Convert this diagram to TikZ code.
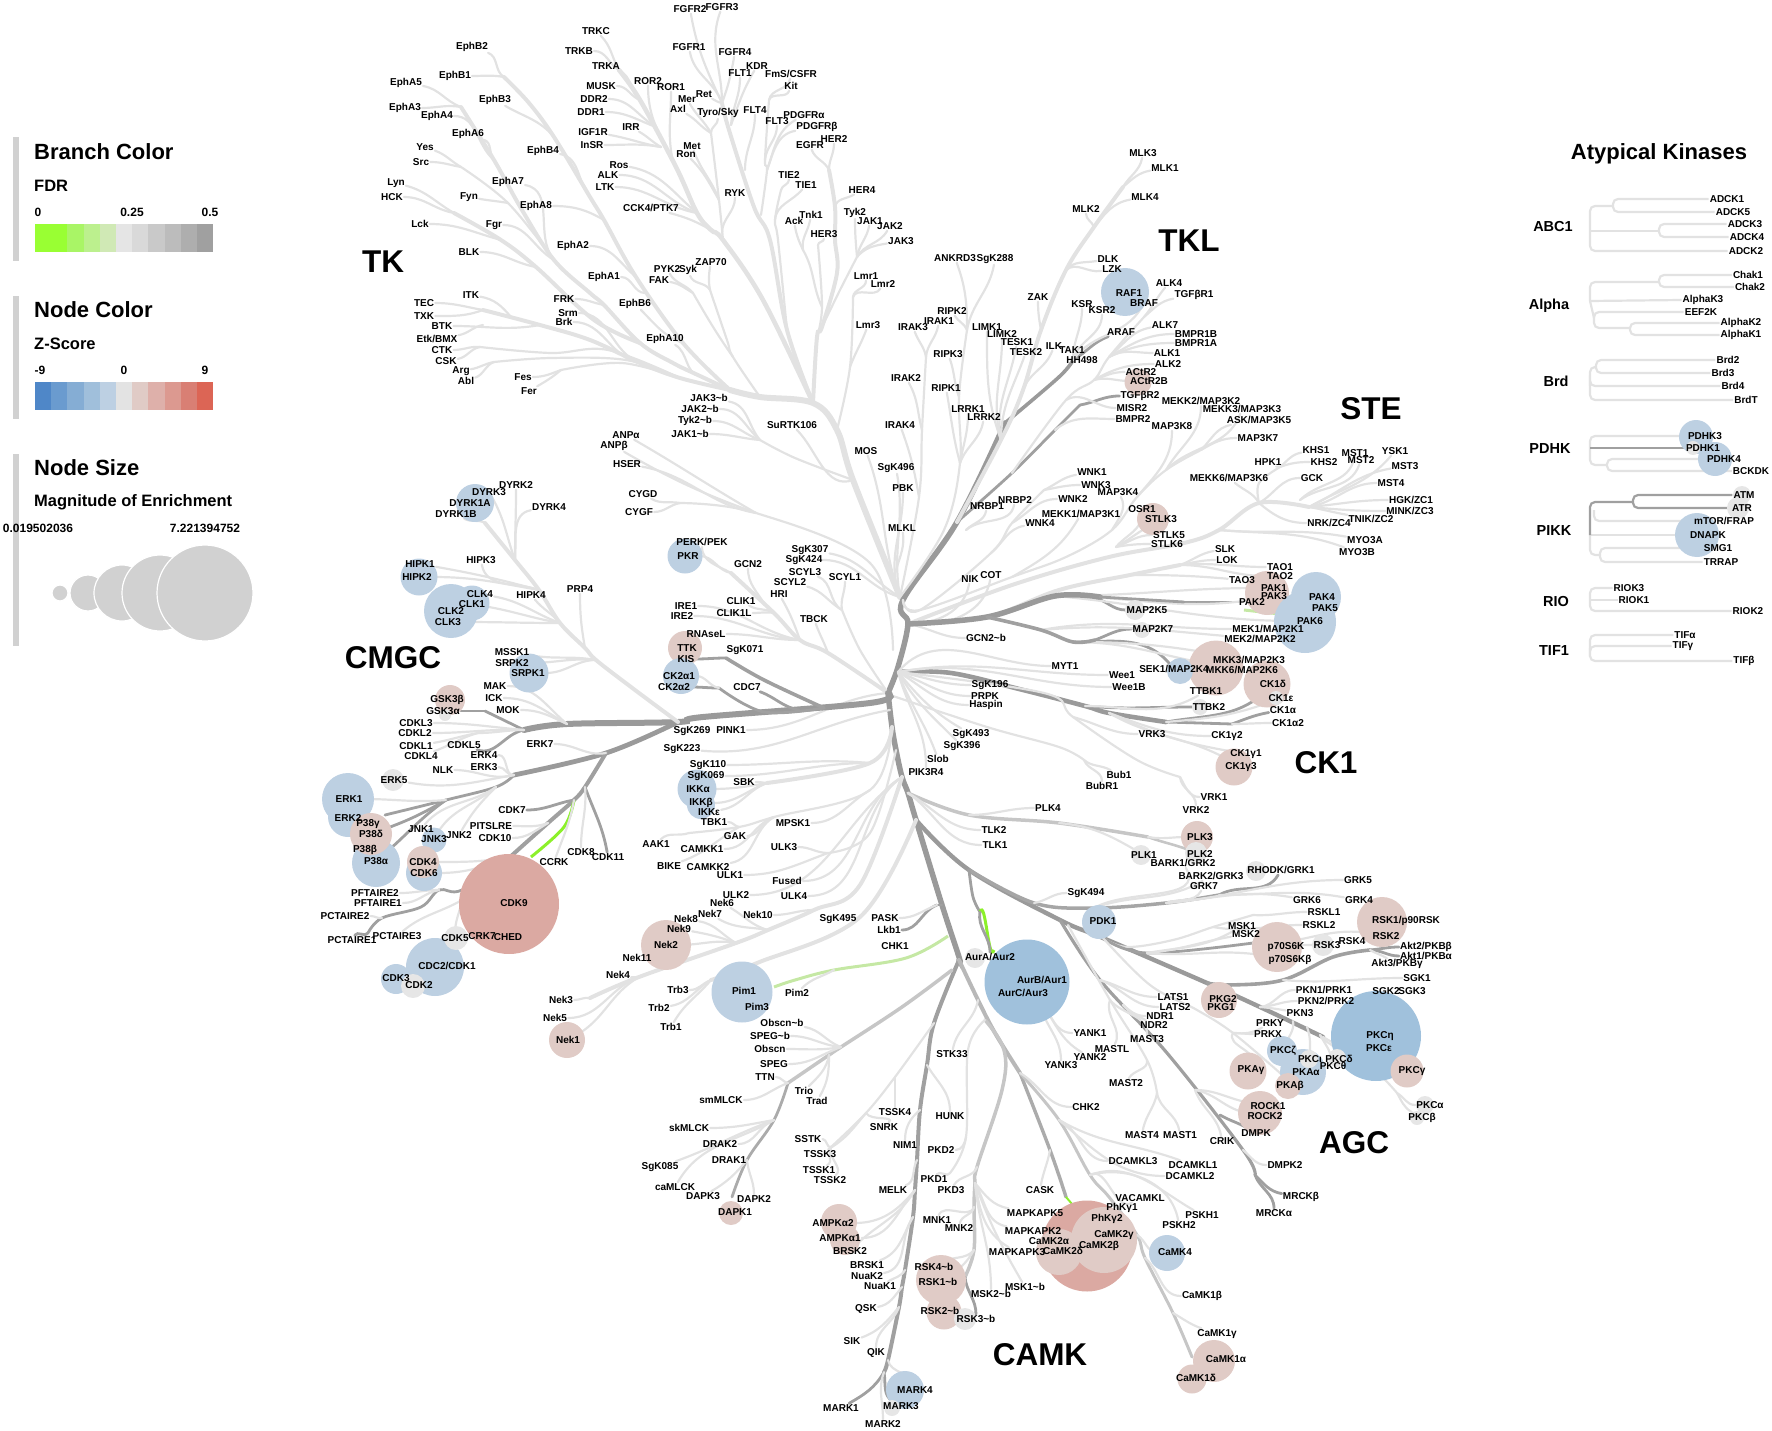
\documentclass[tikz,border=0pt]{standalone}
\usepackage{fontspec}
\setmainfont{Liberation Sans}
\usetikzlibrary{positioning}
\pgfdeclarelayer{branch}
\pgfdeclarelayer{dots}
\pgfsetlayers{branch,dots,main}
\definecolor{bl}{HTML}{E2E2E2}
\definecolor{gm}{HTML}{C6C6C6}
\definecolor{mdg}{HTML}{A0A0A0}
\definecolor{dkg}{HTML}{9A9A9A}
\definecolor{grn}{HTML}{8CF02A}
\definecolor{lgn}{HTML}{C5E8A4}
\definecolor{nblue}{HTML}{BDD0E2}
\definecolor{nblu}{HTML}{A0C1DC}
\definecolor{npink}{HTML}{E0CBC6}
\definecolor{nred}{HTML}{DBA9A2}
\definecolor{ngrey}{HTML}{E6E6E6}
\newcommand{\tld}{\textasciitilde}
\newcommand{\twigs}[2]{\foreach \ja/\jb/\ao/\ai in {#2}{\draw[#1] (\ja) to[out=\ao,in=\ai] (\jb);}}
\newcommand{\atyp}[2]{\foreach \ja/\jb in {#2}{\draw[#1] (\ja) |- (\jb);}}
\begin{document}
\begin{tikzpicture}[x=1pt,y=-1pt,
 lbl/.style={font=\fontsize{10}{11}\selectfont\bfseries,inner sep=1pt},
 fam/.style={font=\fontsize{31.5}{33}\selectfont\bfseries,inner sep=0pt},
 sub/.style={font=\fontsize{14.5}{16}\selectfont\bfseries,inner sep=0pt},
 ttl/.style={font=\fontsize{22}{24}\selectfont\bfseries,anchor=west,inner sep=0pt},
 stl/.style={font=\fontsize{16.5}{18}\selectfont\bfseries,anchor=west,inner sep=0pt},
 tck/.style={font=\fontsize{12}{13}\selectfont\bfseries,inner sep=0pt},
 dot/.style={circle,inner sep=0pt,draw=none},
 tw/.style={draw=bl,line width=2.2pt,line cap=round},
 tr/.style={draw=bl,line width=4pt,line cap=round},
 trb/.style={draw=bl,line width=6pt,line cap=round},
 tg/.style={draw=gm,line width=3.5pt,line cap=round},
 md/.style={draw=mdg,line width=2.8pt,line cap=round},
 dk/.style={draw=dkg,line width=5.5pt,line cap=round},
 gr/.style={draw=grn,line width=3pt},
 lg/.style={draw=lgn,line width=3pt},
 aty/.style={draw=bl,line width=2.2pt,rounded corners=5pt},
 atyd/.style={draw=mdg,line width=2.2pt,rounded corners=5pt}]
\useasboundingbox (0,0) rectangle (1772,1431);
% legend
\foreach \y/\h in {137/124,296/123,454/192}{\fill[black!18] (13,\y) rectangle ++(6,\h);}
\node[ttl] (tBranch) at (34,152) {Branch Color};
\node[stl] (tFDR) at (34,186) {FDR};
\node[ttl] (tNode) at (34,310) {Node Color};
\node[stl] (tZ) at (34,344) {Z-Score};
\node[ttl] (tSize) at (34,468) {Node Size};
\node[stl] (tMag) at (34,502) {Magnitude of Enrichment};
\foreach \n/\x/\y/\lab in {a/38/212/0,b/132/212/0.25,c/210/212/0.5,d/40/370/-9,e/124/370/0,f/205/370/9,g/38/528/0.019502036,h/205/528/7.221394752}{\node[tck] (k\n) at (\x,\y) {\lab};}
\foreach \i/\c in {0/99FF33,1/99FF33,2/A9F566,3/BCF08E,4/D0E9B5,5/E5E5E5,6/D9D9D9,7/C9C9C9,8/BCBCBC,9/AEAEAE,10/A0A0A0}{\definecolor{cc}{HTML}{\c}\fill[cc] (35+\i*16.2,224) rectangle ++(16.2,28);}
\foreach \i/\c in {0/4F87C8,1/6A9BCF,2/85ADD4,3/A0BFDB,4/BDD0E3,5/E3E3E3,6/E0CBC6,7/DEB0AA,8/DC9990,9/D97F74,10/DC6555}{\definecolor{cc}{HTML}{\c}\fill[cc] (35+\i*16.2,382) rectangle ++(16.2,28);}
\foreach \n/\x/\d in {a/60/16,b/88/36,c/122/56,d/160/76,e/205/96}{\node[dot,fill=black!18,draw=white,line width=1.2pt,minimum size=\d] (s\n) at (\x,593) {};}
% family names
\foreach \n/\x/\y in {TK/383/262,TKL/1189/241,STE/1371/409,CMGC/393/658,CK1/1326/763,AGC/1354/1143,CAMK/1040/1355}{\node[fam] (f\n) at (\x,\y) {\n};}
\node[ttl,anchor=center] (tAty) at (1659,154) {Atypical Kinases};
\foreach \n/\x/\y in {ABC1/1553/227,Alpha/1549/306,Brd/1556/381,PDHK/1550/449,PIKK/1554/531,RIO/1556/602,TIF1/1554/651}{\node[sub] (s\n) at (\x,\y) {\n};}
% kinases, name = text
\foreach \n/\x/\y in {FGFR2/690/9,FGFR3/722/7,TRKC/596/31,EphB2/472/47,TRKB/579/51,FGFR1/689/47,FGFR4/735/52,KDR/757/66,FLT1/740/73,TRKA/606/66,EphB1/455/76,EphA5/406/83,ROR2/648/81,ROR1/671/87,MUSK/601/86,Kit/791/86,Ret/704/94,Mer/687/99,DDR2/594/99,EphB3/495/100,Axl/678/109,EphA3/405/108,DDR1/591/112,EphA4/437/116,FLT4/755/110,FLT3/777/121,IRR/631/127,IGF1R/593/132,EphA6/468/134,HER2/834/139,InSR/592/145,Met/692/146,EGFR/810/145,Yes/425/147,EphB4/543/151,Ron/686/154,Src/421/162,Ros/619/165,TIE2/789/175,ALK/608/175,EphA7/508/182,Lyn/396/183,TIE1/806/185,LTK/605/187,HER4/862/190,RYK/735/193,HCK/392/197,Fyn/469/197,EphA8/536/206,Tyk2/855/213,Tnk1/811/215,JAK1/870/221,Ack/794/221,JAK2/890/226,Lck/420/224,Fgr/494/225,HER3/824/234,JAK3/901/241,EphA2/573/246,BLK/469/252,ZAP70/711/262,PYK2/667/269,Syk/688/270,EphA1/604/277,Lmr1/866/276,FAK/659/280,Lmr2/883/284,ITK/471/295,TEC/424/303,FRK/564/299,EphB6/635/304,Srm/568/313,TXK/424/316,Brk/564/322,Lmr3/868/325,BTK/442/326,EphA10/665/339,CTK/442/350,CSK/446/361,Arg/461/371,Fes/523/377,Abl/466/381,Fer/529/391,SuRTK106/792/425,HSER/627/464,CYGD/643/494,CYGF/639/512,MOS/866/451,
 MLK3/1143/153,MLK1/1165/168,MLK4/1145/197,MLK2/1086/209,ANKRD3/955/258,SgK288/995/259,DLK/1108/259,LZK/1112/269,ZAK/1038/297,RAF1/1129/293,BRAF/1144/303,ALK4/1169/283,KSR/1082/304,KSR2/1102/310,RIPK2/952/311,IRAK1/939/321,IRAK3/913/327,LIMK1/987/327,ALK7/1165/325,BMPR1B/1196/334,BMPR1A/1196/343,ARAF/1121/332,LIMK2/1002/334,TESK1/1017/342,ILK/1054/346,TAK1/1072/350,TESK2/1026/352,ALK1/1167/353,RIPK3/948/354,HH498/1082/360,ALK2/1168/364,ACtR2/1141/372,ACtR2B/1149/381,IRAK2/906/378,RIPK1/946/388,LRRK1/968/409,MISR2/1132/408,LRRK2/984/417,BMPR2/1133/419,IRAK4/900/425,MAP3K8/1172/426,MAP3K7/1258/438,KHS1/1316/450,MST1/1355/453,YSK1/1395/451,MST2/1361/460,HPK1/1268/462,KHS2/1324/462,MST3/1405/466,SgK496/896/468,WNK1/1092/472,GCK/1312/478,WNK3/1096/485,MST4/1391/483,PBK/903/488,MAP3K4/1118/492,WNK2/1073/499,NRBP2/1015/500,NRBP1/987/506,OSR1/1142/509,STLK3/1161/519,WNK4/1040/523,MLKL/902/528,STLK5/1169/535,MYO3A/1365/540,STLK6/1167/544,SLK/1225/549,MYO3B/1357/552,LOK/1227/560,TAO1/1280/567,TAO2/1280/576,
 NIK/970/579,COT/991/575,TAO3/1242/580,PAK1/1274/588,PAK3/1274/596,PAK4/1322/597,PAK2/1252/602,PAK5/1325/608,MAP2K5/1147/610,PAK6/1310/621,MAP2K7/1153/629,MYT1/1065/666,Wee1/1122/675,SgK196/990/685,Wee1B/1129/687,TTBK1/1206/691,PRPK/985/696,Haspin/986/705,TTBK2/1209/707,SgK493/971/734,VRK3/1152/734,SgK396/962/746,Slob/938/759,PIK3R4/926/772,Bub1/1119/775,BubR1/1102/786,VRK1/1214/797,VRK2/1196/810,PLK4/1048/808,TLK2/994/830,PLK3/1200/837,TLK1/995/845,PLK1/1144/855,PLK2/1200/854,GRK5/1358/880,GRK7/1204/886,SgK494/1086/893,GRK6/1307/900,GRK4/1359/900,RSKL1/1324/912,PDK1/1103/921,RSKL2/1319/925,MSK1/1242/926,MSK2/1246/934,RSK2/1386/936,RSK4/1352/941,RSK3/1327/945,p70S6K/1286/947,
 SGK1/1417/978,SGK2/1386/991,SGK3/1412/991,LATS1/1173/997,PKG2/1223/999,LATS2/1175/1007,PKG1/1221/1007,NDR1/1160/1016,PKN3/1300/1013,NDR2/1154/1025,PRKY/1270/1023,YANK1/1090/1033,PRKX/1268/1034,MAST3/1147/1039,MASTL/1112/1049,YANK2/1090/1057,YANK3/1061/1065,MAST2/1126/1083,ROCK1/1268/1106,CHK2/1086/1107,ROCK2/1265/1116,DMPK/1256/1133,MAST4/1142/1135,MAST1/1180/1135,CRIK/1222/1141,DCAMKL3/1133/1161,DCAMKL1/1193/1165,DMPK2/1285/1165,DCAMKL2/1190/1176,CASK/1040/1190,VACAMKL/1140/1198,MAPKAPK5/1035/1213,PSKH1/1202/1215,PSKH2/1179/1225,MAPKAPK2/1033/1231,CaMK4/1175/1252,MAPKAPK3/1017/1252,
 Pim1/744/991,Pim2/797/993,Pim3/757/1007,Trb3/678/990,Trb2/659/1008,Trb1/671/1027,Obscn/770/1049,SPEG/774/1064,STK33/952/1054,TTN/765/1077,Trio/804/1091,Trad/817/1101,smMLCK/721/1100,TSSK4/895/1112,HUNK/950/1116,SNRK/884/1127,skMLCK/689/1128,SSTK/808/1139,DRAK2/720/1144,NIM1/905/1145,PKD2/941/1150,TSSK3/820/1154,DRAK1/729/1160,SgK085/660/1167,TSSK1/819/1170,PKD1/934/1179,TSSK2/830/1180,caMLCK/675/1187,MELK/893/1190,PKD3/951/1190,DAPK3/703/1196,DAPK2/754/1199,DAPK1/735/1212,MNK1/937/1220,MNK2/959/1228,BRSK2/850/1251,BRSK1/867/1265,NuaK2/867/1276,NuaK1/880/1286,QSK/866/1309,SIK/852/1341,QIK/876/1353,MARK4/915/1390,MARK1/841/1408,MARK3/901/1406,MARK2/883/1424,
 DYRK2/516/485,DYRK3/489/492,DYRK4/549/507,DYRK1A/470/503,DYRK1B/456/514,HIPK3/481/560,PKR/688/556,HIPK1/420/564,GCN2/748/564,SgK307/810/550,SgK424/804/560,SCYL3/805/572,SCYL1/845/577,SCYL2/790/582,HIPK2/417/577,PRP4/580/589,HRI/779/594,CLK4/480/594,CLK1/472/604,HIPK4/531/595,IRE1/686/606,IRE2/682/616,CLIK1/741/601,CLIK1L/734/613,CLK2/451/611,CLK3/448/622,TBCK/814/619,RNAseL/706/634,MSSK1/512/652,TTK/687/648,SgK071/745/650,KIS/686/659,SRPK2/512/663,SRPK1/528/673,CDC7/747/687,MAK/495/686,ICK/494/698,MOK/508/710,CDKL3/416/723,SgK269/692/731,PINK1/731/730,CDKL2/415/733,CDKL1/416/746,CDKL5/464/745,ERK7/540/744,SgK223/682/749,CDKL4/421/756,ERK4/484/755,SgK110/708/765,NLK/443/770,ERK3/484/767,ERK5/394/780,SgK069/706/776,SBK/744/782,ERK1/349/799,CDK7/512/810,ERK2/348/818,TBK1/714/822,MPSK1/793/823,JNK1/421/829,PITSLRE/491/826,JNK3/434/839,JNK2/459/835,GAK/735/836,CDK10/495/838,AAK1/656/844,ULK3/784/847,CAMKK1/702/849,CDK8/581/852,CDK11/608/857,CDK4/423/862,CCRK/554/862,BIKE/669/866,CAMKK2/708/867,CDK6/424/873,Fused/787/881,ULK1/730/875,
 PFTAIRE2/375/893,PFTAIRE1/378/903,CDK9/514/903,ULK2/736/895,ULK4/794/896,Nek6/722/903,Nek7/710/914,Nek10/758/915,PCTAIRE2/345/916,Nek8/686/919,SgK495/838/919,Nek9/679/929,CRK7/482/936,CHED/508/937,PCTAIRE3/397/936,CDK5/455/938,PCTAIRE1/352/940,Nek2/666/945,Nek11/637/958,Nek4/618/975,CDK3/396/978,CDK2/419/985,Nek3/561/1000,Nek5/555/1018,Nek1/568/1040,PASK/885/918,Lkb1/889/930,CHK1/895/946,
 ADCK1/1727/199,ADCK5/1733/212,ADCK3/1745/224,ADCK4/1747/237,ADCK2/1746/251,Chak1/1748/275,Chak2/1750/287,AlphaK3/1703/300,EEF2K/1701/312,AlphaK2/1741/323,AlphaK1/1741/335,Brd2/1728/360,Brd3/1723/373,Brd4/1733/386,BrdT/1746/400,PDHK3/1705/436,PDHK1/1703/448,PDHK4/1724/459,BCKDK/1751/471,ATM/1744/495,ATR/1742/508,DNAPK/1708/535,SMG1/1718/548,TRRAP/1721/562,RIOK3/1629/588,RIOK1/1634/600,RIOK2/1748/611}{\node[lbl] (\n) at (\x,\y) {\n};}
% kinases, name and text differ
\foreach \n/\lab/\x/\y in {FmS/{FmS/CSFR}/791/74,Tyro/{Tyro/Sky}/718/113,PDGFRa/PDGFRα/804/115,PDGFRb/PDGFRβ/817/127,CCK4/{CCK4/PTK7}/651/208,Etk/{Etk/BMX}/437/339,JAK3b/JAK3\tld b/709/398,JAK2b/JAK2\tld b/700/409,Tyk2b/Tyk2\tld b/695/421,JAK1b/JAK1\tld b/690/434,ANPa/ANPα/626/435,ANPb/ANPβ/614/446,
 TGFbR1/TGFβR1/1194/295,TGFbR2/TGFβR2/1140/396,MEKK2/{MEKK2/MAP3K2}/1201/401,MEKK3/{MEKK3/MAP3K3}/1242/409,ASK/{ASK/MAP3K5}/1259/420,MEKK6/{MEKK6/MAP3K6}/1229/478,HGK/{HGK/ZC1}/1411/500,MINK/{MINK/ZC3}/1410/511,MEKK1/{MEKK1/MAP3K1}/1081/514,TNIK/{TNIK/ZC2}/1371/519,NRK/{NRK/ZC4}/1329/523,
 MEK1/{MEK1/MAP2K1}/1268/629,GCN2b/GCN2\tld b/986/638,MEK2/{MEK2/MAP2K2}/1260/639,MKK3/{MKK3/MAP2K3}/1249/660,SEK1/{SEK1/MAP2K4}/1174/669,MKK6/{MKK6/MAP2K6}/1242/670,CK1d/CK1δ/1273/684,CK1e/CK1ε/1281/698,CK1a/CK1α/1283/710,CK1a2/CK1α2/1288/723,CK1g2/CK1γ2/1227/736,CK1g1/CK1γ1/1246/754,CK1g3/CK1γ3/1241/767,BARK1/{BARK1/GRK2}/1183/863,RHODK/{RHODK/GRK1}/1281/870,BARK2/{BARK2/GRK3}/1211/876,RSK1/{RSK1/p90RSK}/1406/921,p70S6Kb/p70S6Kβ/1290/960,AurA/{AurA/Aur2}/990/957,
 Akt2/{Akt2/PKBβ}/1426/947,Akt1/{Akt1/PKBα}/1426/956,Akt3/{Akt3/PKBγ}/1397/964,AurB/{AurB/Aur1}/1042/980,AurC/{AurC/Aur3}/1023/993,PKN1/{PKN1/PRK1}/1324/990,PKN2/{PKN2/PRK2}/1326/1001,PKCh/PKCη/1380/1036,PKCe/PKCε/1379/1048,PKCz/PKCζ/1283/1051,PKCi/PKCι/1310/1059,PKCd/PKCδ/1339/1059,PKCt/PKCθ/1333/1066,PKAg/PKAγ/1251/1070,PKAa/PKAα/1306/1072,PKCg/PKCγ/1412/1071,PKAb/PKAβ/1290/1086,PKCa/PKCα/1430/1105,PKCb/PKCβ/1422/1118,MRCKb/MRCKβ/1301/1197,PhKg1/PhKγ1/1122/1208,MRCKa/MRCKα/1274/1213,PhKg2/PhKγ2/1107/1219,
 CaMKIIg/CaMK2γ/1114/1235,CaMKIIa/CaMK2α/1049/1241,CaMKIIb/CaMK2β/1099/1246,CaMKIId/CaMK2δ/1063/1251,CaMK1b/CaMK1β/1202/1296,CaMK1g/CaMK1γ/1217/1334,CaMK1a/CaMK1α/1226/1359,CaMK1d/CaMK1δ/1196/1378,MSK1b/MSK1\tld b/1025/1287,Obscnb/Obscn\tld b/782/1023,SPEGb/SPEG\tld b/770/1036,AMPKa2/AMPKα2/833/1223,AMPKa1/AMPKα1/840/1238,RSK4b/RSK4\tld b/934/1267,RSK1b/RSK1\tld b/938/1282,MSK2b/MSK2\tld b/991/1294,RSK2b/RSK2\tld b/940/1311,RSK3b/RSK3\tld b/976/1319,
 PERK/{PERK/PEK}/702/542,CK2a1/CK2α1/679/676,CK2a2/CK2α2/674/687,GSK3b/GSK3β/447/700,GSK3a/GSK3α/443/711,IKKa/IKKα/698/789,IKKb/IKKβ/701/803,IKKe/IKKε/709/812,P38g/P38γ/368/824,P38d/P38δ/371/834,P38b/P38β/365/850,P38a/P38α/376/861,CDC2/{CDC2/CDK1}/447/966,
 mTOR/{mTOR/FRAP}/1724/521,TIFa/TIFα/1685/635,TIFg/TIFγ/1683/646,TIFb/TIFβ/1744/661}{\node[lbl] (\n) at (\x,\y) {\lab};}
% junctions of the tree
\foreach \n/\x/\y in {rc/888/693,rt/900/597,tkc/853/480,tkb/837/430,tk0/813/403,tk1/760/397,tk2/730/390,tk25/700/376,tk3/673/363,tk4/640/343,tk5/680/378,eb0/683/343,eb1/636/277,eb9/645/293,eb2/604/220,eb3/590/197,eb4/554/137,eb5/529/103,eb6/504/77,ea05/604/305,ea1/590/293,ea2/554/260,ea3/522/210,ea4/494/160,ea5/461/107,ys2/508/203,ys1/461/167,sf1/594/320,sf2/536/267,sf3/501/240,sf4/454/213,te1/640/363,te2/590/340,te3/540/325,te35/511/317,te4/483/310,bt1/483/325,ct1/608/350,ct2/551/353,ct3/480/347,ab1/626/360,ab2/551/358,ab3/494/362,fe1/622/363,fe2/561/370,zk1/733/357,zk2/693/293,zk3/727/340,zk4/710/290,
 tr1/763/300,tr12/723/240,tr15/711/230,tr2/697/213,tr3/676/167,tr32/661/147,tr33/672/157,tr35/656/127,tr4/640/100,tr5/619/70,ax1/719/200,ax2/711/133,tr1b/722/233,br1/787/330,br0/770/240,br2/754/207,br25/745/170,br3/729/130,br35/731/125,br4/722/103,br2b/761/215,c15/767/170,c1/765/160,c2/769/100,he1/817/337,he15/822/327,he2/837/273,he3/835/240,he4/835/207,he5/829/170,hq1/822/307,hq2/818/245,ti1/778/240,ti2/775/220,ti3/781/190,ack1/803/250,ja1/840/290,ja2/857/257,lm1/850/367,lm2/853/297,jb1/795/458,jb2/760/440,gy0/893/650,gy1/870/563,gy2/756/513,gy3/680/503,
 sp0/898/667,sp15/908/624,sp1/903/600,sp2/957/522,da1/1005/423,da2/1059/377,da3/1073/360,tg1/1012/473,tg2/1055/430,tg3/1080/405,tl1/1066/400,tl15/1094/380,tl2/1109/357,tl3/1144/317,ml5/1001/440,ml4/1023/390,ml3/1041/330,ml2/1066/270,ml1/1094/227,ml0/1123/187,rp1/944/530,rp2/960/463,rp3/959/397,rp4/967/330,ir3/919/497,ir2/922/430,ir1/926/357,nb0/966/530,
 st0/920/610,st1/1012/577,wn0/991/553,wn1/1012/523,wn2/1044/490,me0/1066/557,me1/1112/530,me2/1137/497,me3/1166/470,me4/1201/450,st2/1116/547,gk0/1012/585,gk1/1109/557,gk2/1184/543,gk3/1219/530,gk4/1259/503,gk5/1309/507,gu1/1259/483,gu2/1280/467,gs0/1300/500,sa0/987/617,sa1/1059/590,sa2/1130/575,sa3/1180/565,pa1/987/617,pa15/1094/598,pa2/1055/596,pa3/1100/597,pa4/1184/602,pe1/1244/610,pe2/1280/614,mk1/1041/630,mk2/1073/642,mk3/1095/640,
 rc4/898/672,ck1/951/673,ck2/1023/690,ck25/1085/706,ck3/1109/713,ck4/1166/722,ck5/1232/724,bu0/890/695,bu1/987/727,bu2/1059/747,bu3/1084/760,vr0/1044/693,vr1/1073/717,vr2/1137/760,vr3/1180/777,sp3/892/727,sp35/896/750,sp4/902/777,sp45/908/793,sp5/916/820,sp55/942/905,sp6/959/957,pl1/969/815,pl2/1059/823,pl3/1148/837,
 ag1/969/870,ag2/1060/920,ag25/1068/925,ag3/1103/938,ag4/1207/983,ag5/1260/1007,ag55/1293/1021,ag56/1307/1027,ag57/1320/1035,ag6/1323/1037,ah1/1100/980,ah15/1123/1005,ah2/1167/1053,ah25/1195/1090,ah28/1220/1115,ah3/1243/1150,ah4/1255/1175,gr1/1034/903,gr2/1094/908,gr3/1166/903,gr4/1219/895,rs1/1127/947,rs2/1173/940,rs3/1213/927,rs4/1253/915,p71/1147/953,p72/1253/943,ak1/1230/985,ak2/1283/980,ak3/1333/957,ak4/1370/950,pk1/1397/1093,ma1/1110/1000,ma2/1147/1060,ma3/1157/1093,pq0/1150/985,pq1/1197/1010,pq2/1233/1033,pq3/1280/1073,aub/1040/1000,au1/973/897,au2/980/912,au3/994/950,
 ca0/959/960,ca1/934/1023,ca15/927/1065,ca2/920/1110,ca25/917/1160,ca28/915/1190,ca3/913/1217,ca35/905/1270,ca36/902/1287,ca37/899/1307,ca4/888/1360,ca5/884/1372,cb0/978/1000,cb1/995/1033,cb15/985/1020,cb2/1020/1073,cb25/1050/1150,cb3/1066/1197,cb4/1072/1204,cc1/1059/1120,cc15/1090/1175,cc2/1109/1197,cc25/1137/1235,cc3/1145/1258,cc4/1173/1313,cc5/1192/1357,cd1/1004/1050,cd2/1002/1090,cd3/977/1167,cd35/975/1183,cd4/974/1207,cd5/974/1250,cd6/965/1277,pd1/968/1050,pd2/966/1137,pd3/950/1173,ts1/895/1077,ts2/866/1113,ts3/831/1147,mc0/952/970,mc1/902/1007,mc2/841/1047,mc25/829/1055,mc3/788/1083,dp1/774/1120,dp2/747/1160,dp3/732/1197,pm0/948/936,pm1/906/958,pm2/834/970,pm3/795/980,pm4/774/987,tb1/860/917,tb2/757/963,tb3/711/980,pas/937/905,nk1/860/885,nk2/814/910,nk25/768/930,nk3/736/943,nk4/639/977,nk5/590/998,
 aa1/870/790,aa2/774/817,aa3/739/827,aa4/689/833,ul1/870/833,ul2/828/853,ik1/870/763,ik2/767/783,sp25/890/710,ek1/828/653,ek15/800/640,ek2/774/613,ek25/765/605,ek3/731/573,sc1/860/650,sc2/842/610,ki1/824/708,ki2/764/680,ki3/726/658,cq0/764/712,cq1/719/688,cs0/799/710,dk1/870/703,dk2/703/717,dk3/678/722,dk5/567/724,dk4/524/730,cl/478/733,gq1/485/711,er1/606/753,er2/514/775,er25/496/787,er3/446/800,er4/385/815,cv1/585/787,cv15/574/800,cv18/548/823,cv2/510/857,gn1/564/827,gn2/531/857,pf0/462/890,pf1/439/890,pf2/421/907,pf3/382/918,pf4/368/933,pg/462/900,cm1/631/687,cm2/596/660,cm3/560/623,cm4/539/590,cm5/515/560,cm6/485/523,cm25/585/648,
 xa0/1590/231,xa1/1613/206,xa2/1659/231,xb0/1590/301,xb1/1659/282,xb2/1594/318,xb3/1630/328,xc0/1590/386,xc1/1596/367,xd0/1590/448,xd1/1607/465,xe0/1590/535,xe1/1633/502,xe2/1594/510,xe3/1600/555,xf0/1590/600,xg0/1590/648}{\coordinate (\n) at (\x,\y);}
\begin{pgfonlayer}{dots}
\foreach \n/\x/\y/\d/\c in {CDK9/509/904/100/nred,CaMKa/1087/1246/91/nred,PhK/1104/1240/66/npink,CaMKc/1059/1252/46/npink,AurB/1027/982/85/nblu,PKCh/1376/1036/90/nblu,PKCg/1407/1071/33/npink,RAF1/1125/292/48/nblue,ACtR/1138/382/27/npink,OSR1/1153/519/32/npink,DYRK/475/503/38/nblue,HIPK/419/577/37/nblue,CLK1/472/603/35/nblue,CLK3/451/611/54/nblue,SRPK/529/673/39/nblue,GSK3/450/700/30/npink,GSKa/445/715/12/ngrey,PKR/685/556/35/nblue,TTK/685/648/34/npink,CK2/681/676/36/nblue,ERK5/393/780/22/ngrey,ERK1/348/799/52/nblue,ERK2/348/817/40/nblue,P38a/376/863/48/nblue,P38g/371/834/42/npink,JNK3/434/840/25/nblue,CDK6/424/873/36/nblue,CDK4/423/862/32/npink,IKKa/697/789/39/nblue,IKKb/701/805/28/nblue,CDC2/435/967/58/nblue,CDK3/396/979/30/nblue,CDK2/413/986/24/ngrey,CDK5/456/938/24/ngrey,Nek2/666/945/50/npink,Pim1/742/992/61/nblue,Nek1/567/1040/36/npink,MAP2K5/1135/610/20/ngrey,MAP2K7/1142/630/16/ngrey,PAK1/1267/593/44/npink,PAK4/1316/597/50/nblue,PAK6/1305/622/62/nblue,MKK3/1216/668/55/npink,SEK1/1180/671/26/nblue,CK1d/1267/684/47/npink,TTBK2/1200/707/16/ngrey,CK1e/1276/698/14/ngrey,CK1g/1234/767/37/npink,PLK3/1197/837/32/npink,PLK2/1196/853/22/ngrey,PLK1/1141/855/20/ngrey,RHODK/1256/871/20/ngrey,PDK1/1099/922/34/nblue,AurA/975/958/20/ngrey,PKG/1219/1000/36/npink,RSK1/1382/922/50/npink,p70/1277/947/50/npink,RSK3/1323/945/22/ngrey,PKCz/1282/1051/30/nblue,PKAa/1303/1072/46/nblue,PKCi/1309/1059/18/ngrey,PKCd/1337/1058/18/ngrey,PKAg/1248/1071/37/npink,PKAb/1288/1086/26/npink,ROCK/1260/1113/44/npink,PKCa/1425/1105/18/ngrey,PKCb/1417/1118/14/ngrey,CaMK4/1167/1253/36/nblue,CaMK1a/1214/1361/42/npink,CaMK1d/1192/1379/29/npink,AMPKa2/839/1222/36/npink,AMPKa1/845/1240/30/npink,DAPK1/731/1213/24/npink,RSKb/941/1280/50/npink,RSK2b/944/1312/35/npink,RSK3b/965/1319/22/ngrey,MARK4/905/1390/38/nblue,MARK3/892/1408/16/ngrey,PDHK3/1696/437/34/nblue,PDHK4/1715/459/34/nblue,PDHK1/1693/448/14/ngrey,ATM/1742/495/18/ngrey,ATR/1738/508/22/ngrey,DNAPK/1697/535/44/nblue}{\node[dot,fill=\c,minimum size=\d] (d\n) at (\x,\y) {};}
\end{pgfonlayer}
\begin{pgfonlayer}{branch}
% TK
\draw[trb] plot[smooth,tension=.6] coordinates {(rt) (tkc) (tkb) (tk0) (tk1) (tk2)};
\draw[tr] plot[smooth,tension=.6] coordinates {(tk2) (eb0) (eb1) (eb2) (eb3) (eb4) (eb5) (eb6)};
\draw[tr] plot[smooth,tension=.6] coordinates {(tk2) (tk25) (tk3) (tk4) (ea05) (ea1) (ea2) (ea3) (ea4) (ea5)};
\draw[tr] plot[smooth,tension=.6] coordinates {(tk4) (sf1) (sf2) (sf3) (sf4)};
\draw[tr] plot[smooth,tension=.6] coordinates {(tk2) (tk5) (te1) (te2) (te3) (te4)};
\draw[tw] plot[smooth,tension=.6] coordinates {(tk5) (ct1) (ct2) (ct3)};
\draw[tw] plot[smooth,tension=.6] coordinates {(tk5) (ab1) (ab2) (ab3)};
\draw[tw] plot[smooth,tension=.6] coordinates {(tk5) (fe1) (fe2)};
\draw[tw] plot[smooth,tension=.6] coordinates {(ea2) (ys2) (ys1)};
\draw[tw] plot[smooth,tension=.6] coordinates {(tk1) (zk1) (zk3) (zk4)};
\draw[trb,line width=4.6pt] plot[smooth,tension=.6] coordinates {(tk0) (tr1) (tr12) (tr15) (tr2) (tr3) (tr4) (tr5)};
\draw[tw] plot[smooth,tension=.6] coordinates {(tr12) (ax1) (ax2)};
\draw[tr] plot[smooth,tension=.6] coordinates {(tk0) (br1) (br0) (br2) (br3) (br4)};
\draw[tw] plot[smooth,tension=.6] coordinates {(br2b) (c15) (c1) (c2)};
\draw[tr] plot[smooth,tension=.6] coordinates {(tk0) (he1) (he15) (he2) (he3) (he4) (he5)};
\draw[tw] plot[smooth,tension=.6] coordinates {(he1) (hq1) (hq2)};
\draw[tw] plot[smooth,tension=.6] coordinates {(br1) (ti1) (ti2) (ti3)};
\draw[tw] plot[smooth,tension=.6] coordinates {(he15) (ja1) (ja2)};
\draw[tw] plot[smooth,tension=.6] coordinates {(tkb) (lm1) (lm2)};
\draw[tw] plot[smooth,tension=.6] coordinates {(tkc) (jb1) (jb2)};
\draw[tw] plot[smooth,tension=.6] coordinates {(gy0) (gy1) (gy2) (gy3)};
\twigs{tw}{eb6/EphB2/150/-20,eb6/EphB1/170/0,eb4/EphB3/130/-30,eb3/EphB4/130/-10,eb1/EphA2/140/0,eb2/EphA8/150/0,eb0/EphB6/160/-45,tk25/EphA10/170/-30,eb9/EphA1/180/0,ea5/EphA5/160/-10,ea5/EphA3/170/0,ea4/EphA4/140/0,ea4/EphA6/130/-20,ea2/EphA7/130/-10,ys1/Yes/150/-20,ys1/Src/170/0,ys2/Fyn/170/-10,ea2/Fgr/150/0,sf4/Lyn/150/-15,sf4/HCK/170/0,sf3/Lck/165/0,sf2/BLK/170/0,ea05/FRK/170/0,te1/Srm/160/0,te1/Brk/170/0,te35/ITK/130/-10,te4/TEC/170/0,te4/TXK/200/0,te3/BTK/190/0,bt1/Etk/190/10,ct3/CTK/175/0,ct3/CSK/190/10,ab3/Arg/190/10,ab3/Abl/200/20,fe2/Fes/200/0,fe2/Fer/220/30,zk1/zk2/125/-60,zk2/FAK/150/-10,zk2/PYK2/130/-60,zk4/Syk/120/-70,zk4/ZAP70/100/-100}
\twigs{tw}{tr5/TRKC/120/-45,tr5/TRKB/150/0,tr4/TRKA/140/-20,tr4/MUSK/160/0,tr35/DDR2/150/0,tr35/DDR1/160/0,tr32/IRR/150/-30,tr32/InSR/170/0,tr32/IGF1R/170/-10,tr33/ROR1/100/-90,tr33/ROR2/120/-90,tr2/Ros/140/-10,tr2/ALK/160/0,tr2/LTK/170/0,tr15/CCK4/150/-15,ax2/Axl/150/-30,ax2/Mer/120/-60,ax2/Tyro/95/-90,ax1/Met/110/-70,ax1/Ron/120/-45,tr1b/RYK/90/-90,br4/FGFR3/90/-110,br4/FGFR2/115/-80,br4/FGFR1/110/-80,br4/FGFR4/70/-100,br4/Ret/170/-30,br35/FLT1/85/-90,br35/KDR/70/-120,br25/FLT4/90/-90,c2/FmS/80/-100,c2/Kit/70/-110,c1/FLT3/85/-90,c15/PDGFRa/70/-150,c15/PDGFRb/70/190,he5/HER2/90/-90,he5/EGFR/115/-70,he4/HER4/80/-150,hq2/HER3/90/-90,ti3/TIE2/80/-90,ti2/TIE1/85/-130,hq1/ack1/115/-60,ack1/Ack/115/-80,ack1/Tnk1/100/-100,ja2/JAK3/50/190,ja2/Tyk2/95/-90,ja2/JAK1/80/-100,ja2/JAK2/60/-120,lm2/Lmr1/85/-90,lm2/Lmr2/70/-120,lm1/Lmr3/70/-110,tkc/SuRTK106/200/-45,rt/MOS/110/-70,jb2/JAK3b/130/-10,jb2/JAK2b/140/0,jb2/Tyk2b/160/0,jb2/JAK1b/175/0,gy3/CYGD/170/-30,gy3/CYGF/190/0,gy2/HSER/170/-10,gy2/ANPb/160/-30,gy2/ANPa/150/-30}
% TKL and STE
\draw[dk] plot[smooth,tension=.6] coordinates {(rc) (sp0) (sp15) (sp1) (sp2) (da1)};
\draw[dk,line width=3.6pt] plot[smooth,tension=.6] coordinates {(da1) (da2) (da3)};
\draw[md] plot[smooth,tension=.6] coordinates {(sp2) (tg1) (tg2) (tg3)};
\draw[tr] plot[smooth,tension=.6] coordinates {(sp2) (ml5) (ml4) (ml3) (ml2) (ml1) (ml0)};
\draw[tw] plot[smooth,tension=.6] coordinates {(tg1) (tl1) (tl15) (tl2) (tl3)};
\draw[tw] plot[smooth,tension=.6] coordinates {(rt) (rp1) (rp2) (rp3) (rp4)};
\draw[tw] plot[smooth,tension=.6] coordinates {(rt) (ir3) (ir2) (ir1)};
\draw[tw] plot[smooth,tension=.6] coordinates {(sp1) (st0) (wn0) (wn1) (wn2)};
\draw[tw] plot[smooth,tension=.6] coordinates {(sp1) (st0) (st1) (me0) (me1) (me2) (me3) (me4)};
\draw[tr] plot[smooth,tension=.6] coordinates {(sp15) (gk0) (gk1) (gk2) (gk3) (gk4) (gk5)};
\draw[tw] plot[smooth,tension=.6] coordinates {(gk4) (gu1) (gu2)};
\draw[tr] plot[smooth,tension=.6] coordinates {(sp15) (sa0) (sa1) (sa2) (sa3)};
\twigs{md}{tg3/TGFbR2/10/180,da3/ARAF/30/200,pa15/MAP2K5/-10/180,mk3/MAP2K7/20/180,mk2/SEK1/0/130,pa4/PAK2/0/180}
\twigs{tw}{ml0/MLK3/60/-100,ml0/MLK1/40/190,ml1/MLK4/50/190,ml1/MLK2/110/-90,ml2/DLK/50/190,ml2/LZK/40/190,ml3/ZAK/100/-90,ml5/LIMK1/110/-90,ml5/LIMK2/105/-90,ml5/TESK1/100/-100,ml5/TESK2/90/-110,ml4/ILK/70/-110,da3/KSR/90/-90,da3/KSR2/75/-90,da3/BRAF/55/-120,tl3/ALK4/50/-130,tl3/TGFbR1/40/190,tl2/ALK7/40/190,tl2/BMPR1B/30/180,tl2/BMPR1A/25/180,tl2/ALK1/30/180,tl15/ALK2/30/180,tl15/ACtR2/20/180,tl15/ACtR2B/15/180,tl1/MISR2/30/180,tg2/BMPR2/40/180,rp4/ANKRD3/90/-70,rp4/SgK288/80/-100,rp4/RIPK2/110/-60,rp3/RIPK3/110/-70,rp2/RIPK1/105/-80,rp2/LRRK1/80/-90,rp2/LRRK2/70/-100,ir1/IRAK3/100/-70,ir1/IRAK1/85/-100,ir2/IRAK2/105/-60,ir3/IRAK4/100/-70,rt/SgK496/100/-80,rt/PBK/110/-90,rt/MLKL/130/-80,nb0/NRBP1/45/-100,nb0/NRBP2/40/-100,wn2/WNK1/25/190,wn2/WNK3/10/180,wn1/WNK2/30/180,wn0/WNK4/40/190,st1/MEKK1/30/-120,me4/ASK/45/190,me4/MAP3K7/30/180,me3/MEKK3/45/-110,me3/MEKK2/60/-90,me2/MAP3K8/50/-90,me1/MAP3K4/60/-60,st2/STLK3/30/-150,st2/OSR1/50/-90,st2/STLK5/20/180,st2/STLK6/10/180,sp15/NIK/0/-100,sp15/COT/-5/-100,gk5/HGK/5/180,gk5/MINK/-5/180,gk5/TNIK/-10/170,gk4/NRK/-40/180,gk3/MYO3A/-5/170,gk3/MYO3B/-5/160,gu2/KHS1/40/190,gu2/HPK1/120/-30,gu2/KHS2/20/180,gk4/MEKK6/120/-40,gk4/GCK/30/180,gs0/MST1/45/-100,gs0/MST2/35/-110,gk5/YSK1/30/-130,gk5/MST3/25/190,gk5/MST4/10/180,sa3/SLK/20/190,sa3/LOK/10/180,sa3/TAO1/5/180,sa3/TAO2/0/180,sa2/TAO3/0/175,pa2/PAK1/0/180,pa2/PAK3/0/190,pa2/PAK6/-5/180,mk1/MEK1/10/180,mk1/MEK2/5/175,mk2/MKK3/0/170,mk2/MKK6/0/170,sp15/GCN2b/-10/180}
\draw[lg] (pe1) to (pe2);
\draw[dk] plot[smooth,tension=.6] coordinates {(sp15) (pa1) (pa2) (pa3)};
\draw[md] plot[smooth,tension=.6] coordinates {(pa3) (pa4)};
\draw[md,line width=3.6pt] plot[smooth,tension=.6] coordinates {(pa1) (mk1) (mk2) (mk3)};
% CK1
\draw[dk,line width=4.6pt] plot[smooth,tension=.6] coordinates {(rc4) (ck1) (ck2) (ck25) (ck3) (ck4)};
\draw[md] plot[smooth,tension=.6] coordinates {(ck4) (ck5)};
\draw[tw] plot[smooth,tension=.6] coordinates {(bu0) (bu1) (bu2) (bu3)};
\draw[tw] plot[smooth,tension=.6] coordinates {(rc4) (vr0) (vr1) (vr2) (vr3)};
\twigs{md}{ck5/CK1a/20/190,ck25/TTBK2/-5/180,ck4/CK1d/10/-135}
\twigs{tw}{ck25/TTBK1/0/-150,ck4/CK1e/5/200,ck5/CK1a2/0/180,rc4/MYT1/50/180,rc4/Wee1/10/180,rc4/Wee1B/10/180,rc4/SgK196/-10/180,rc4/PRPK/-20/180,rc4/Haspin/-30/180,rc4/SgK493/-50/150,rc4/SgK396/-60/135,rc4/Slob/-70/110,rc4/PIK3R4/-75/90,bu3/Bub1/-40/150,bu3/BubR1/-70/90,vr3/VRK1/-60/180,vr3/VRK2/-85/90,vr1/VRK3/-15/180,ck3/CK1g2/-20/180,ck3/CK1g1/-25/170,ck3/CK1g3/-30/150}
% PLK, AGC
\draw[dk] plot[smooth,tension=.6] coordinates {(rc) (sp3) (sp35) (sp4) (sp45) (sp5) (sp55) (sp6) (ca0)};
\draw[tg] plot[smooth,tension=.6] coordinates {(sp45) (pl1) (pl2) (pl3)};
\twigs{tg,line width=2.6pt}{pl3/PLK2/-20/160}
\twigs{tw}{pl3/PLK3/-10/180,pl1/PLK4/0/180,sp45/TLK2/-30/180,sp45/TLK1/-35/180,pl2/PLK1/-5/150}
\draw[dk,line width=4.4pt] plot[smooth,tension=.6] coordinates {(sp5) (ag1) (ag2) (ag3) (ag4) (ag5) (ag6)};
\draw[md,line width=3.2pt] plot[smooth,tension=.6] coordinates {(ag2) (ah1) (ah2) (ah3) (ah4)};
\draw[tg,draw=black!35] plot[smooth,tension=.6] coordinates {(ag1) (gr1) (gr2) (gr3) (gr4)};
\draw[tw] plot[smooth,tension=.6] coordinates {(ag3) (rs1) (rs2) (rs3) (rs4)};
\draw[md] plot[smooth,tension=.6] coordinates {(ag3) (p71) (p72)};
\draw[md,line width=3.6pt] plot[smooth,tension=.6] coordinates {(ag4) (ak1) (ak2) (ak3) (ak4)};
\draw[tw] plot[smooth,tension=.6] coordinates {(ag25) (ma1) (ma2) (ma3)};
\draw[tw] plot[smooth,tension=.6] coordinates {(ag3) (pq0) (pq1) (pq2) (pq3)};
\draw[md] plot[smooth,tension=.6] coordinates {(ag1) (au1) (au2)};
\draw[gr] (au2) to[out=70,in=-110] (au3);
\twigs{md}{ah4/MRCKa/-70/90,ah4/MRCKb/-45/170,gr4/RHODK/30/-120,p72/p70S6K/0/180,ak4/Akt2/5/180,ak4/Akt1/0/180,ah28/DMPK/-30/150,au2/AurA/-100/90}
\twigs{tw}{gr3/GRK5/5/180,gr4/GRK4/0/170,gr3/GRK6/5/170,gr2/BARK1/30/-60,gr2/BARK2/20/-150,gr3/GRK7/20/-120,gr1/SgK494/10/180,rs4/RSKL1/-3/180,rs3/RSKL2/-10/180,p71/p70S6Kb/-5/170,p72/RSK3/0/180,p72/RSK2/-5/170,p71/MSK1/10/-150,p71/MSK2/5/-170,ak4/Akt3/-30/150,ak2/SGK1/-5/180,ag5/PKN1/5/180,ag5/PKN2/3/180,ag5/PKN3/-5/170,ag55/PKCz/-80/70,ag56/PKCi/-70/90,ag57/PKCd/-60/100,ag57/PKCt/-60/100,ag6/pk1/-30/130,pk1/PKCa/-30/180,pk1/PKCb/-60/150,ah1/LATS1/-15/180,ah1/LATS2/-20/180,ah15/NDR1/-40/180,ah15/NDR2/-50/150,ma3/MAST4/-100/80,ma3/MAST1/-80/100,ma2/MAST2/-80/60,ma1/MAST3/-50/90,ma1/MASTL/-110/60,pq2/PRKY/-5/-150,pq2/PRKX/0/180,pq2/PKAg/-120/70,pq3/PKAb/-45/120,pq3/PKAa/0/150,ah25/ROCK1/0/170,ah25/ROCK2/-10/170,ah25/CRIK/-70/100,ah3/DMPK2/-40/180,aub/YANK1/-50/180,aub/YANK2/-55/150,aub/YANK3/-85/90}
% CAMK
\draw[md,line width=4pt] plot[smooth,tension=.6] coordinates {(ca0) (ca1) (ca15) (ca2) (ca25) (ca28) (ca3) (ca35) (ca36) (ca37) (ca4) (ca5)};
\draw[md,draw=black!28,line width=4pt] plot[smooth,tension=.6] coordinates {(ca0) (cb0) (cb1) (cb2)};
\draw[md,draw=black!33,line width=3.4pt] plot[smooth,tension=.6] coordinates {(cb2) (cb25) (cb3)};
\draw[gr,line width=2pt] (cb3) to (cb4);
\draw[tg,line width=3pt] plot[smooth,tension=.6] coordinates {(cb2) (cc1) (cc15) (cc2) (cc25) (cc3) (cc4) (cc5)};
\draw[tg] plot[smooth,tension=.6] coordinates {(cb15) (cd1) (cd2) (cd3) (cd35) (cd4) (cd5) (cd6)};
\draw[tw] plot[smooth,tension=.6] coordinates {(cb15) (pd1) (pd2) (pd3)};
\draw[tw] plot[smooth,tension=.6] coordinates {(ca1) (ts1) (ts2) (ts3)};
\draw[tg] plot[smooth,tension=.6] coordinates {(mc0) (mc1) (mc2) (mc25) (mc3)};
\draw[md,draw=black!33] plot[smooth,tension=.6] coordinates {(mc3) (dp1) (dp2) (dp3)};
\draw[lg] plot[smooth,tension=.6] coordinates {(pm0) (pm1) (pm2) (pm3) (pm4)};
\twigs{md}{ca5/MARK1/-120/30,ca5/MARK3/-80/150,cd6/RSK3b/-85/90,pas/Lkb1/200/0,sp55/pas/190/10}
\twigs{tw}{cb25/CASK/-100/80,cb2/CHK2/-30/180,cc1/DCAMKL1/-30/160,cc1/DCAMKL3/-25/180,cc1/DCAMKL2/-40/180,cc15/VACAMKL/30/-150,cc15/PSKH1/20/150,cc15/PSKH2/15/100,cc3/CaMK1b/-40/180,cc4/CaMK1g/-30/160,cc25/CaMK4/-30/180,cd5/RSK4b/-130/30,cd5/RSK1b/-120/30,cd4/MNK1/-110/70,cd4/MNK2/-100/80,pd3/PKD1/-110/60,pd2/PKD2/-100/0,cd3/PKD3/-110/60,cb0/STK33/-100/80,ca15/HUNK/-60/90,cd35/MAPKAPK5/-50/170,cd35/MAPKAPK2/-60/170,cd35/MAPKAPK3/-80/150,cd35/MSK1b/-70/120,cd35/MSK2b/-85/90,ts3/SSTK/200/0,ts2/TSSK3/-130/30,ts3/TSSK1/-120/30,ts3/TSSK2/-110/40,ts1/TSSK4/-90/90,ts2/SNRK/-60/45,ca2/NIM1/-140/90,ca25/MELK/-120/20,ca28/AMPKa2/-130/0,ca28/AMPKa1/-130/0,ca28/BRSK2/-120/45,ca3/BRSK1/-120/20,ca3/NuaK2/-125/10,ca35/NuaK1/-120/30,ca36/QSK/-130/10,ca37/SIK/-130/20,ca37/QIK/-110/90,ca4/MARK4/-80/100,ca5/MARK2/-110/90,mc3/smMLCK/200/0,dp1/skMLCK/190/0,dp1/DRAK2/200/0,dp2/DAPK3/-130/30,dp2/DAPK2/-85/90,dp1/SgK085/200/20,dp1/caMLCK/210/60,mc2/Obscnb/160/-10,mc2/SPEGb/175/0,mc2/Obscn/190/0,mc2/SPEG/200/0,mc3/TTN/170/0,mc25/Trio/-100/45,mc25/Trad/-90/60,pm2/Pim2/-150/45,pas/PASK/200/0}
% Nek, Trb and the lower left fans
\draw[tr] plot[smooth,tension=.6] coordinates {(sp5) (tb1) (tb2) (tb3)};
\draw[tr] plot[smooth,tension=.6] coordinates {(sp4) (nk1) (nk2) (nk25) (nk3) (nk4) (nk5)};
\draw[tw] plot[smooth,tension=.6] coordinates {(sp3) (aa1) (aa2) (aa3) (aa4)};
\draw[tw] plot[smooth,tension=.6] coordinates {(sp35) (ul1) (ul2)};
\draw[tr] plot[smooth,tension=.6] coordinates {(sp3) (ik1) (ik2)};
\twigs{tw}{tb3/Trb3/200/0,tb3/Trb2/210/10,tb3/Trb1/230/60,nk5/Nek3/170/0,nk4/Nek5/200/0,nk4/Nek1/210/30,nk4/Nek4/170/-10,nk3/Nek2/170/0,nk3/Nek8/150/-10,nk3/Nek9/160/-10,nk25/Nek7/170/-30,nk25/Nek6/165/-30,nk2/Nek10/180/0,aa4/AAK1/200/45,aa1/MPSK1/210/0,aa2/GAK/190/0,aa3/TBK1/170/0,aa2/CAMKK1/200/0,aa2/CAMKK2/210/10,aa3/BIKE/210/20,ul2/ULK3/180/0,ul2/ULK1/200/0,sp4/Fused/210/0,sp4/ULK4/215/0,sp4/ULK2/215/0,ik2/IKKa/190/0,ik2/IKKb/200/0,ik2/IKKe/200/10,ik2/SBK/175/0,ik1/SgK110/175/0,ik1/SgK069/180/0,sp25/SgK223/190/-5,rc/PINK1/185/0}
% upper left fans and CMGC
\draw[tr] plot[smooth,tension=.6] coordinates {(rc) (ek1) (ek15) (ek2) (ek3)};
\draw[tw] plot[smooth,tension=.6] coordinates {(rc) (sc1) (sc2)};
\twigs{tw}{ek3/PERK/150/-90,ek3/PKR/170/0,ek25/GCN2/120/-90,ek15/IRE1/170/0,ek15/IRE2/175/0,ek2/CLIK1/150/-30,ek2/CLIK1L/170/0,ek15/RNAseL/180/0,sc2/SCYL2/150/-15,ek15/HRI/110/-60,sc2/SCYL3/150/-20,sc2/SCYL1/100/-90,rt/SgK307/150/-10,rt/SgK424/165/0,ek1/TBCK/110/-70}
\draw[dk,line width=6pt] plot[smooth,tension=.6] coordinates {(rc) (dk1) (dk2) (dk3) (dk5) (dk4)};
\draw[md,line width=3.6pt] plot[smooth,tension=.6] coordinates {(ki1) (ki2) (ki3)};
\draw[md] plot[smooth,tension=.6] coordinates {(ki1) (cq0) (cq1)};
\draw[dk,line width=4.8pt] plot[smooth,tension=.6] coordinates {(dk3) (er1) (er2)};
\draw[md] plot[smooth,tension=.6] coordinates {(er2) (er25) (er3) (er4)};
\draw[md,line width=4pt] plot[smooth,tension=.6] coordinates {(er1) (cv1) (cv15) (cv18) (cv2)};
\draw[gr] plot[smooth,tension=.6] coordinates {(cv15) (gn1) (gn2)};
\draw[md] plot[smooth,tension=.6] coordinates {(cv2) (pf0) (pf1) (pf2) (pf3) (pf4)};
\draw[tr] plot[smooth,tension=.6] coordinates {(dk3) (cm1) (cm2) (cm25) (cm3) (cm4) (cm5) (cm6)};
\draw[md] plot[smooth,tension=.6] coordinates {(dk4) (gq1)};
\twigs{md}{ki3/KIS/180/0,cq1/CK2a2/180/0,cs0/CDC7/170/-20,gq1/GSK3a/180/0,dk4/CDKL5/190/-20,er3/P38d/210/20,er3/P38a/215/40,cv15/CDK7/190/0,cv1/CDK11/-70/100,pf4/PCTAIRE1/-120/60}
\twigs{tw}{cq1/CK2a1/170/0,cm2/SRPK1/180/0,cm2/SRPK2/175/0,cm2/MSSK1/170/-10,dk5/MAK/140/0,dk5/ICK/150/0,dk5/MOK/155/0,dk4/CDKL3/175/0,dk4/CDKL2/178/0,dk4/cl/180/0,cl/CDKL1/190/10,cl/CDKL4/195/20,er1/ERK7/190/0,er2/ERK4/190/0,er2/ERK3/195/0,er2/NLK/195/0,er2/ERK5/190/-10,er3/ERK1/185/0,er25/JNK1/215/50,er25/JNK3/220/60,er25/JNK2/225/60,cv1/CDK8/-85/90,cv15/CCRK/-100/70,cv18/PITSLRE/200/0,cv18/CDK10/210/0,cv2/CDK4/190/0,cv2/CDK6/200/0,pf1/PFTAIRE2/180/0,pf1/PFTAIRE1/190/0,pf3/PCTAIRE2/190/0,pg/PCTAIRE3/210/40,pg/CDK5/-100/90,cm6/DYRK1B/150/-30,cm5/DYRK2/90/-90,cm5/DYRK4/85/190,cm5/DYRK3/110/-60,cm4/HIPK3/160/-80,cm4/HIPK1/165/-10,cm4/HIPK2/170/0,cm3/CLK4/160/-10,cm3/CLK1/170/-10,cm3/CLK3/180/0,cm3/HIPK4/130/-50,cm25/PRP4/100/-90}
% atypical kinases
\atyp{aty}{xa0/xa1,xa1/ADCK1.west,xa1/ADCK5.west,xa2/ADCK3.west,xa2/ADCK4.west,xa0/ADCK2.west,xb0/xb1,xb1/Chak1.west,xb1/Chak2.west,xb2/EEF2K.west,xb2/xb3,xb3/AlphaK2.west,xb3/AlphaK1.west,xc0/xc1,xc1/Brd2.west,xc1/Brd3.west,xc0/Brd4.west,xc0/BrdT.west,xd0/PDHK3.west,xd0/xd1,xd1/PDHK4.west,xd1/BCKDK.west,xe2/mTOR.west,xe0/xe3,xe3/SMG1.west,xe3/TRRAP.west,xf0/RIOK3.west,xf0/RIOK2.west,xg0/TIFa.west,xg0/TIFg.west,xg0/TIFb.west}
\draw[aty] (xa0) -- (xa2);
\draw[aty] (xb0) -- (AlphaK3.west);
\draw[aty] (xb0) -- (xb2);
\draw[aty] (xf0) -- (RIOK1.west);
\draw[aty] (xe0) -- (DNAPK.west);
\atyp{atyd}{xe0/xe1,xe1/ATM.west,xe1/ATR.west}
\draw[atyd] (xd0) -- (PDHK1.west);
\end{pgfonlayer}
\end{tikzpicture}
\end{document}
